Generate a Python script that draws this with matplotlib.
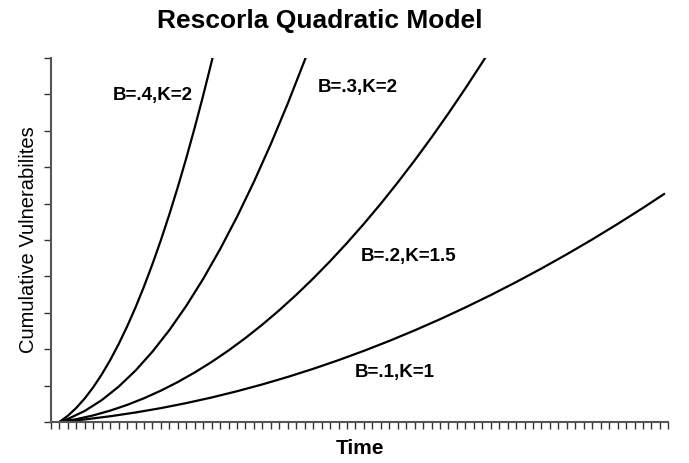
import matplotlib
matplotlib.use("Agg")
import matplotlib.pyplot as plt

plt.rcParams['font.family'] = ['Liberation Sans', 'DejaVu Sans']

# time points (tick units) and cumulative vulnerabilities (axis top = 100)
t_01 = [1, 4, 7, 10, 13, 16, 19, 22, 25, 28, 31, 34, 37, 40, 43, 46, 49, 52, 55, 58, 61, 64, 67, 70, 72.6]
v_01 = [0, 0.70, 1.57, 2.61, 3.81, 5.19, 6.73, 8.45, 10.33, 12.38, 14.60, 16.99, 19.55, 22.27,
        25.17, 28.23, 31.47, 34.87, 38.44, 42.18, 46.09, 50.16, 54.41, 58.82, 62.8]

t_02 = [1, 3, 5, 7, 9, 11, 13, 15, 17, 19, 21, 23, 25, 27, 29, 31, 33, 35, 37, 39, 41, 43, 45,
        47, 49, 51, 53]
v_02 = [0, 0.77, 1.81, 3.12, 4.69, 6.52, 8.62, 10.98, 13.61, 16.50, 19.66, 23.08, 26.77, 30.72,
        34.94, 39.42, 44.17, 49.18, 54.45, 59.99, 65.80, 71.87, 78.21, 84.81, 91.67, 98.80, 106.19]

t_03 = [1, 2, 4, 6, 8, 10, 12, 14, 16, 18, 20, 22, 24, 26, 28, 30, 31]
v_03 = [0, 0.83, 3.04, 6.00, 9.70, 14.14, 19.33, 25.25, 31.92, 39.33, 47.49, 56.38, 66.02,
        76.40, 87.52, 99.39, 105.6]

t_04 = [1, 2, 3, 4, 5, 6, 7, 8, 9, 10, 11, 12, 13, 14, 15, 16, 17, 18, 19, 20]
v_04 = [0, 1.72, 3.89, 6.50, 9.56, 13.06, 17.00, 21.39, 26.23, 31.51, 37.23, 43.40, 50.01,
        57.07, 64.57, 72.52, 80.91, 89.75, 99.03, 108.75]

labels = ["B=.1,K=1", "B=.2,K=1.5", "B=.3,K=2", "B=.4,K=2"]
label_pos = [(40.6, 13.7), (42.3, 45.6), (36.3, 91.8), (12.0, 89.8)]

fig = plt.figure(figsize=(6.89, 4.63), dpi=100)
ax = fig.add_axes([0.074, 0.0886, 0.896, 0.786])

for tt, vv in [(t_01, v_01), (t_02, v_02), (t_03, v_03), (t_04, v_04)]:
    ax.plot(tt, vv, color='black', lw=1.6, solid_capstyle='butt')

for txt, (x, y) in zip(labels, label_pos):
    ax.text(x, y, txt, fontsize=13.5, fontweight='bold', ha='center', va='center')

ax.set_xlim(0, 73)
ax.set_ylim(0, 100)
ax.set_xticks(range(0, 74))
ax.set_yticks(range(0, 101, 10))
ax.set_xticklabels([])
ax.set_yticklabels([])
ax.tick_params(direction='out', length=5, width=1, color='#333333')
for s in ['top', 'right']:
    ax.spines[s].set_visible(False)
for s in ['left', 'bottom']:
    ax.spines[s].set_color('#555555')
    ax.spines[s].set_linewidth(1.5)

ax.set_xlabel("Time", fontsize=15, fontweight='bold', labelpad=4)
ax.set_ylabel("Cumulative Vulnerabilites", fontsize=14.5, labelpad=1)
fig.text(320 / 689, 1 - 21 / 463, "Rescorla Quadratic Model", fontsize=19, fontweight='bold',
         ha='center', va='center')

fig.savefig("out.png", dpi=100)
